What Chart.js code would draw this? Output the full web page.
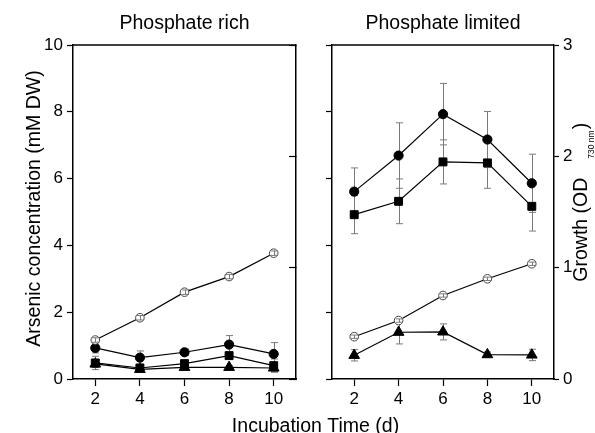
<!DOCTYPE html>
<html>
<head>
<meta charset="utf-8">
<script src="https://cdn.jsdelivr.net/npm/chart.js@4.4.1/dist/chart.umd.min.js"></script>
<style>
  html, body { margin: 0; padding: 0; background: #fff; }
  #wrap { position: relative; width: 595px; height: 433px; }
  #wrap canvas { position: absolute; left: 0; top: 0; }
</style>
</head>
<body>
<div id="wrap">
  <canvas id="chart-rich" width="595" height="433"></canvas>
  <canvas id="chart-limited" width="595" height="433"></canvas>
</div>
<script>
// dados
const DAYS = [2, 4, 6, 8, 10];
const X_TICKS = [2, 4, 6, 8, 10];

// Phosphate rich (arsénio em mM DW, crescimento em OD730)
const RICH_CIRCLE = [0.93, 0.64, 0.80, 1.03, 0.75];
const RICH_CIRCLE_ERR = [0.15, 0.20, 0.10, 0.27, 0.34];
const RICH_SQUARE = [0.48, 0.33, 0.46, 0.70, 0.40];
const RICH_SQUARE_ERR = [0.20, 0.10, 0.10, 0.10, 0.20];
const RICH_TRIANGLE = [0.45, 0.29, 0.35, 0.35, 0.33];
const RICH_TRIANGLE_ERR = [0.10, 0.05, 0.05, 0.05, 0.10];
const RICH_GROWTH = [0.35, 0.55, 0.78, 0.92, 1.13];
const RICH_GROWTH_ERR = [0.02, 0.02, 0.02, 0.02, 0.02];

// Phosphate limited
const LIM_CIRCLE = [5.61, 6.69, 7.93, 7.17, 5.86];
const LIM_CIRCLE_ERR = [0.71, 0.98, 0.92, 0.84, 0.87];
const LIM_SQUARE = [4.92, 5.32, 6.50, 6.47, 5.17];
const LIM_SQUARE_ERR = [0.57, 0.67, 0.66, 0.76, 0.74];
const LIM_TRIANGLE = [0.71, 1.40, 1.41, 0.73, 0.72];
const LIM_TRIANGLE_ERR = [0.17, 0.35, 0.24, 0.08, 0.17];
const LIM_GROWTH = [0.38, 0.525, 0.75, 0.90, 1.035];
const LIM_GROWTH_ERR = [0.015, 0.015, 0.015, 0.015, 0.015];

const FONT = '"Liberation Sans", Arial, sans-serif';

function pts(vals) {
    return DAYS.map((d, i) => ({ x: d, y: vals[i] }));
}

function series(vals, errs, style, yAxisID) {
    const open = style === 'open';
    return {
        data: pts(vals),
        errors: errs,
        errorsOnTop: open,
        yAxisID: yAxisID,
        borderColor: '#000',
        borderWidth: 1.2,
        pointStyle: open ? 'circle' : style,
        pointRadius: style === 'circle' ? 4.6 : style === 'rect' ? 5.6 : style === 'triangle' ? 6.2 : 4.3,
        pointBackgroundColor: open ? '#fff' : '#000',
        pointBorderColor: open ? '#444' : '#000',
        pointBorderWidth: 1,
        tension: 0,
        fill: false,
    };
}

function drawErrors(chart, onTop) {
    const ctx = chart.ctx;
    ctx.save();
    ctx.strokeStyle = '#7a7a7a';
    ctx.lineWidth = 1;
    chart.data.datasets.forEach((ds, i) => {
        if (!ds.errors || !!ds.errorsOnTop !== onTop) return;
        const meta = chart.getDatasetMeta(i);
        const ys = chart.scales[meta.yAxisID];
        const xs = chart.scales[meta.xAxisID];
        ds.data.forEach((p, j) => {
            const e = ds.errors[j];
            const x = Math.round(xs.getPixelForValue(p.x)) + 0.5;
            const y1 = ys.getPixelForValue(p.y + e);
            const y2 = ys.getPixelForValue(p.y - e);
            ctx.beginPath();
            ctx.moveTo(x, y1); ctx.lineTo(x, y2);
            ctx.moveTo(x - 3.5, y1); ctx.lineTo(x + 3.5, y1);
            ctx.moveTo(x - 3.5, y2); ctx.lineTo(x + 3.5, y2);
            ctx.stroke();
        });
    });
    ctx.restore();
}

/* barras de erro: atrás dos marcadores cheios, por cima dos vazios */
const errorBars = {
    id: 'errorBars',
    beforeDatasetsDraw(chart) { drawErrors(chart, false); },
    afterDatasetsDraw(chart) { drawErrors(chart, true); },
};

/* textos: título do painel, títulos dos eixos, moldura */
const panelText = {
    id: 'panelText',
    afterDraw(chart, args, opts) {
        const ctx = chart.ctx;
        const a = chart.chartArea;
        ctx.save();
        ctx.strokeStyle = '#000';
        ctx.lineWidth = 1.5;
        ctx.beginPath();
        ctx.moveTo(a.left, a.top); ctx.lineTo(a.right, a.top);
        ctx.stroke();

        ctx.fillStyle = '#000';
        ctx.font = '19.5px ' + FONT;
        ctx.textBaseline = 'alphabetic';
        ctx.textAlign = 'center';
        ctx.fillText(opts.title, (a.left + a.right) / 2, 29);

        if (opts.yTitle) {
            ctx.save();
            ctx.translate(39.5, 208.5);
            ctx.rotate(-Math.PI / 2);
            ctx.fillText(opts.yTitle, 0, 0);
            ctx.restore();
        }
        if (opts.xTitle) {
            ctx.fillText(opts.xTitle, 315.5, 432);
        }
        if (opts.growthTitle) {
            ctx.save();
            ctx.translate(586.5, 281.7);
            ctx.rotate(-Math.PI / 2);
            ctx.textAlign = 'left';
            ctx.fillText('Growth (OD', 0, 0);
            const w = ctx.measureText('Growth (OD').width;
            ctx.font = '8.5px ' + FONT;
            ctx.fillText('730 nm', w + 19, 7);
            const ws = ctx.measureText('730 nm').width;
            ctx.font = '19.5px ' + FONT;
            ctx.fillText(')', w + 20 + ws, 0);
            ctx.restore();
        }
        ctx.restore();
    },
};

function xScale() {
    return {
        type: 'linear',
        min: 1,
        max: 11,
        afterBuildTicks: (s) => { s.ticks = X_TICKS.map(v => ({ value: v })); },
        afterFit: (s) => { s.height = 54; },
        border: { color: '#000', width: 1.5 },
        grid: { drawOnChartArea: false, color: '#000', tickLength: 7, tickWidth: 1.2 },
        ticks: { color: '#000', font: { size: 17, family: FONT }, padding: 3, maxRotation: 0 },
    };
}

function makeChart(id, datasets, opts) {
    return new Chart(document.getElementById(id), {
        type: 'line',
        data: { datasets },
        options: {
            responsive: false,
            animation: false,
            events: [],
            layout: { padding: { top: 45, left: 0, right: 0, bottom: 0 } },
            plugins: {
                legend: { display: false },
                tooltip: { enabled: false },
                panelText: opts.text,
            },
            scales: {
                x: xScale(),
                y: {
                    position: 'left',
                    min: 0, max: 10,
                    afterFit: (s) => { s.width = opts.yWidth; },
                    border: { color: '#000', width: 1.5 },
                    grid: { drawOnChartArea: false, color: '#000', tickLength: 6, tickWidth: 1.2 },
                    ticks: { display: opts.yLabels, stepSize: 2, color: '#000', font: { size: 17, family: FONT }, padding: 4 },
                },
                y2: {
                    position: 'right',
                    min: 0, max: 3,
                    afterFit: (s) => { s.width = opts.y2Width; },
                    border: { color: '#000', width: 1.5 },
                    grid: { drawOnChartArea: false, color: '#000', tickLength: opts.y2Tick, tickWidth: 1.2 },
                    ticks: { display: opts.y2Labels, stepSize: 1, color: '#000', font: { size: 17, family: FONT }, padding: 4 },
                },
            },
        },
        plugins: [errorBars, panelText],
    });
}

makeChart('chart-rich', [
    series(RICH_GROWTH, RICH_GROWTH_ERR, 'open', 'y2'),
    series(RICH_CIRCLE, RICH_CIRCLE_ERR, 'circle', 'y'),
    series(RICH_SQUARE, RICH_SQUARE_ERR, 'rect', 'y'),
    series(RICH_TRIANGLE, RICH_TRIANGLE_ERR, 'triangle', 'y'),
], {
    yWidth: 73, y2Width: 299, y2Tick: -7, yLabels: true, y2Labels: false,
    text: { title: 'Phosphate rich', yTitle: 'Arsenic concentration (mM DW)', xTitle: 'Incubation Time (d)' },
});

makeChart('chart-limited', [
    series(LIM_GROWTH, LIM_GROWTH_ERR, 'open', 'y2'),
    series(LIM_CIRCLE, LIM_CIRCLE_ERR, 'circle', 'y'),
    series(LIM_SQUARE, LIM_SQUARE_ERR, 'rect', 'y'),
    series(LIM_TRIANGLE, LIM_TRIANGLE_ERR, 'triangle', 'y'),
], {
    yWidth: 332, y2Width: 41, y2Tick: 5, yLabels: false, y2Labels: true,
    text: { title: 'Phosphate limited', growthTitle: true },
});
</script>
</body>
</html>
